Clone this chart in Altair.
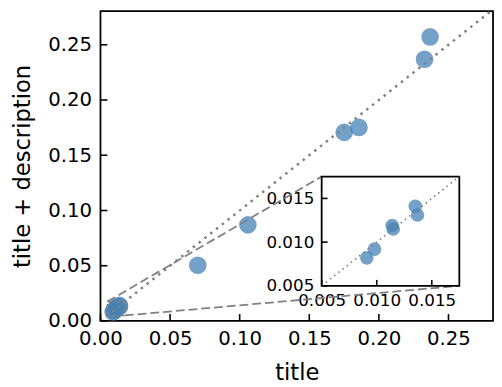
import altair as alt
import pandas as pd

# ---- data ----
x_vals = [0.0091, 0.0098, 0.0114, 0.0115, 0.0135, 0.0137,
          0.0699, 0.1059, 0.1751, 0.1857, 0.2328, 0.2368]
y_vals = [0.0082, 0.0092, 0.0119, 0.0115, 0.0141, 0.0131,
          0.0505, 0.0870, 0.1707, 0.1752, 0.2369, 0.2571]
main_ticks = [0.0, 0.05, 0.10, 0.15, 0.20, 0.25]
inset_ticks = [0.005, 0.010, 0.015]
inset_lim = [0.005, 0.0175]          # zoomed region (both axes)
x_title = "title"
y_title = "title + description"

# ---- layout ----
W, H = 399, 315
XMAX, YMAX = 0.282, 0.2805
# inset box, expressed in main-axes data units
IX = [0.1589, 0.2578]
IY = [0.0318, 0.1307]

FONT = "DejaVu Sans"
PT = "#4682b4"
GRAY = "#808080"
MT, IT = 7, 6   # inward tick lengths
TW = 1.6        # tick width
TC = "black"

df = pd.DataFrame({"x": x_vals, "y": y_vals})
inset_df = df[(df.x >= inset_lim[0]) & (df.x <= inset_lim[1])]

xs = alt.Scale(domain=[0, XMAX], nice=False, zero=False)
ys = alt.Scale(domain=[0, YMAX], nice=False, zero=False)

ax_x = alt.Axis(values=main_ticks, format=".2f", ticks=False, tickSize=0, labelPadding=8,
                domain=False, grid=False, labelFont=FONT, labelFontSize=20, labelColor="black",
                labelFlush=False, labelOverlap=False, title=x_title, titleFont=FONT,
                titleFontSize=23, titleFontWeight="normal", titleColor="black", titlePadding=13)
ax_y = alt.Axis(values=main_ticks, format=".2f", ticks=False, tickSize=0, labelPadding=9,
                domain=False, grid=False, labelFont=FONT, labelFontSize=20, labelColor="black",
                labelFlush=False, labelOverlap=False, title=y_title, titleFont=FONT,
                titleFontSize=23, titleFontWeight="normal", titleColor="black", titlePadding=14)

X = alt.X("x:Q", scale=xs, axis=ax_x)
Y = alt.Y("y:Q", scale=ys, axis=ax_y)

points = alt.Chart(df).mark_circle(size=320, color=PT, opacity=0.75).encode(x=X, y=Y)

dmax = min(XMAX, YMAX)
diag = alt.Chart(pd.DataFrame({"x": [0, dmax], "y": [0, dmax]})).mark_line(
    color=GRAY, strokeWidth=2.5, strokeDash=[2.5, 5]).encode(x=X, y=Y)

zoom_rect = alt.Chart(pd.DataFrame({"x": [inset_lim[0]], "y": [inset_lim[0]],
                                    "x2": [inset_lim[1]], "y2": [inset_lim[1]]})).mark_rect(
    fillOpacity=0, stroke=GRAY, strokeWidth=1.6, strokeDash=[5, 3]).encode(
    x=X, y=Y, x2="x2:Q", y2="y2:Q")

conn = alt.Chart(pd.DataFrame({
    "x": [inset_lim[0], inset_lim[1]], "y": [inset_lim[1], inset_lim[0]],
    "x2": [IX[0], IX[1]], "y2": [IY[1], IY[0]]})).mark_rule(
    color=GRAY, strokeWidth=1.8, strokeDash=[9, 4]).encode(x=X, y=Y, x2="x2:Q", y2="y2:Q")

# inward tick marks on the main axes (at the axis minimum)
mtx = alt.Chart(pd.DataFrame({"x": main_ticks, "y": [0.0] * len(main_ticks)})).mark_tick(
    orient="vertical", size=MT, thickness=TW, color=TC, opacity=1,
    yOffset=-MT / 2).encode(x=X, y=Y)
mty = alt.Chart(pd.DataFrame({"x": [0.0] * len(main_ticks), "y": main_ticks})).mark_tick(
    orient="horizontal", size=MT, thickness=TW, color=TC, opacity=1,
    xOffset=MT / 2).encode(x=X, y=Y)

main = alt.layer(points, diag, zoom_rect, conn, mtx, mty)

# ---- inset ----
px_x0, px_x1 = IX[0] / XMAX * W, IX[1] / XMAX * W
px_yb, px_yt = H - IY[0] / YMAX * H, H - IY[1] / YMAX * H
ixs = alt.Scale(domain=inset_lim, range=[px_x0, px_x1], nice=False, zero=False)
iys = alt.Scale(domain=inset_lim, range=[px_yb, px_yt], nice=False, zero=False)

iax_x = alt.Axis(values=inset_ticks, format=".3f", orient="bottom", offset=-(H - px_yb),
                 ticks=False, tickSize=0, labelPadding=7, domain=False, grid=False,
                 labelFont=FONT, labelFontSize=17, labelColor="black", labelFlush=False,
                 labelOverlap=False, title="")
iax_y = alt.Axis(values=inset_ticks, format=".3f", orient="left", offset=-px_x0,
                 ticks=False, tickSize=0, labelPadding=8, domain=False, grid=False,
                 labelFont=FONT, labelFontSize=17, labelColor="black", labelFlush=False,
                 labelOverlap=False, title="")
IXE = alt.X("x:Q", scale=ixs, axis=iax_x)
IYE = alt.Y("y:Q", scale=iys, axis=iax_y)

ibg = alt.Chart(pd.DataFrame({"x": [inset_lim[0]], "y": [inset_lim[0]],
                              "x2": [inset_lim[1]], "y2": [inset_lim[1]]})).mark_rect(
    fill="white", stroke="black", strokeWidth=1.8).encode(x=IXE, y=IYE, x2="x2:Q", y2="y2:Q")
ipts = alt.Chart(inset_df).mark_circle(size=190, color=PT, opacity=0.75).encode(x=IXE, y=IYE)
idiag = alt.Chart(pd.DataFrame({"x": inset_lim, "y": inset_lim})).mark_line(
    color=GRAY, strokeWidth=1.6, strokeDash=[1.6, 3.8]).encode(x=IXE, y=IYE)
itx = alt.Chart(pd.DataFrame({"x": inset_ticks, "y": [inset_lim[0]] * len(inset_ticks)})).mark_tick(
    orient="vertical", size=IT, thickness=TW, color=TC, opacity=1,
    yOffset=-IT / 2).encode(x=IXE, y=IYE)
ity = alt.Chart(pd.DataFrame({"x": [inset_lim[0]] * len(inset_ticks), "y": inset_ticks})).mark_tick(
    orient="horizontal", size=IT, thickness=TW, color=TC, opacity=1,
    xOffset=IT / 2).encode(x=IXE, y=IYE)
inset = alt.layer(ibg, ipts, idiag, itx, ity)

chart = alt.layer(main, inset).resolve_scale(
    x="independent", y="independent").resolve_axis(
    x="independent", y="independent").properties(
    width=W, height=H, autosize="none", background="white",
    padding={"left": 94, "top": 0, "right": 1, "bottom": 64}).configure_view(
    stroke="black", strokeWidth=1.8)

chart.save("out.html", embed_options={"renderer": "svg", "actions": False})
